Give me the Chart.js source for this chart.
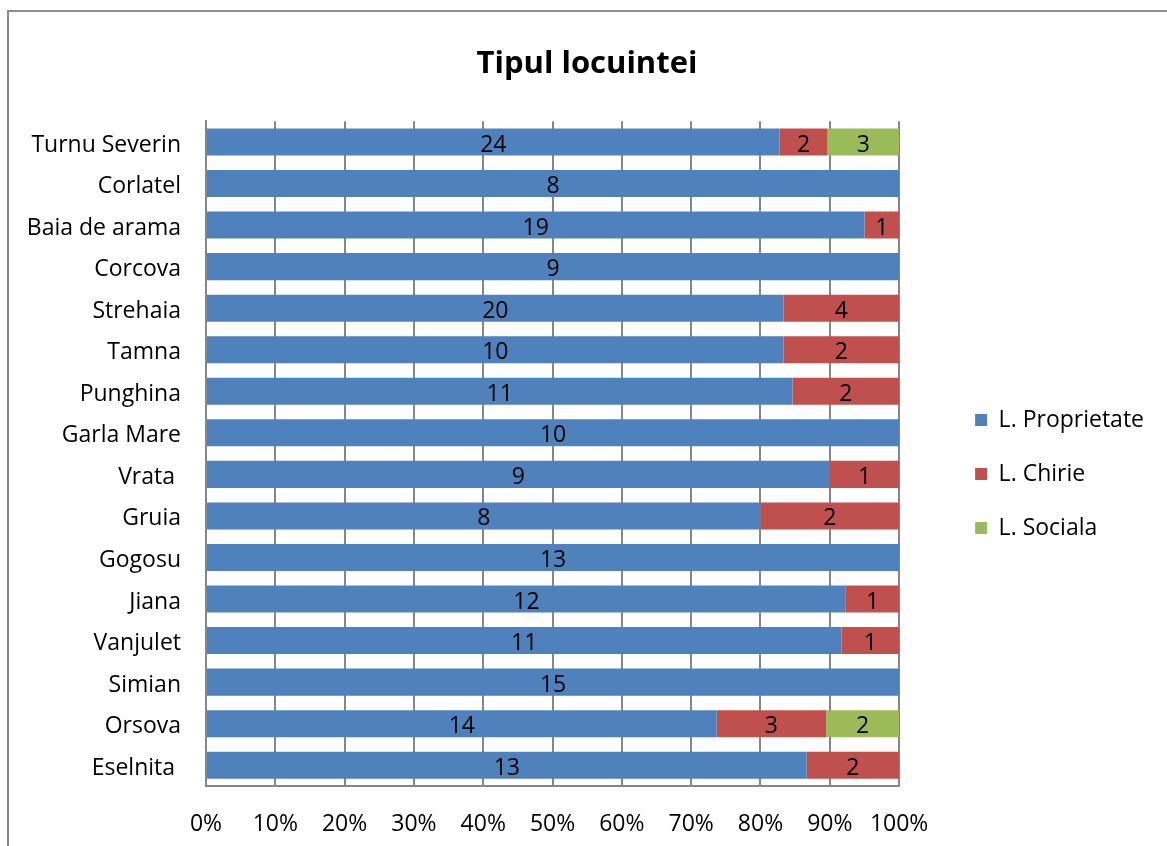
<!DOCTYPE html>
<html>
<head>
<meta charset="utf-8">
<script src="https://cdn.jsdelivr.net/npm/chart.js@4/dist/chart.umd.min.js"></script>
<style>
  html, body { margin: 0; padding: 0; background: #fff; overflow: hidden; }
  #wrap { position: relative; width: 1167px; height: 846px; }
  #frame { position: absolute; left: 7px; top: 10px; width: 1300px; height: 1000px;
           border-left: 2px solid #8c8c8c; border-top: 2px solid #8c8c8c; }
  canvas { position: absolute; left: 0; top: 0; }
</style>
</head>
<body>
<div id="wrap">
  <div id="frame"></div>
  <canvas id="c" width="1167" height="846"></canvas>
</div>
<script>
const categories = ["Turnu Severin", "Corlatel", "Baia de arama", "Corcova", "Strehaia", "Tamna",
  "Punghina", "Garla Mare", "Vrata ", "Gruia", "Gogosu", "Jiana", "Vanjulet", "Simian", "Orsova", "Eselnita "];
const proprietate = [24, 8, 19, 9, 20, 10, 11, 10, 9, 8, 13, 12, 11, 15, 14, 13];
const chirie      = [2, 0, 1, 0, 4, 2, 2, 0, 1, 2, 0, 1, 1, 0, 3, 2];
const sociala     = [3, 0, 0, 0, 0, 0, 0, 0, 0, 0, 0, 0, 0, 0, 2, 0];
const seriesNames = ["L. Proprietate", "L. Chirie", "L. Sociala"];
const tickLabels = ["0%", "10%", "20%", "30%", "40%", "50%", "60%", "70%", "80%", "90%", "100%"];

const FONT = "'Open Sans', sans-serif";
const counts = [proprietate, chirie, sociala];
const totals = categories.map((_, i) => proprietate[i] + chirie[i] + sociala[i]);
const pct = arr => arr.map((v, i) => v / totals[i] * 100);
const colors = ["#4F81BD", "#C0504D", "#9BBB59"];

const labelPlugin = {
  id: 'barLabels',
  afterDatasetsDraw(chart) {
    const ctx = chart.ctx;
    ctx.save();
    ctx.font = "23px " + FONT;
    ctx.fillStyle = "#000";
    ctx.textAlign = "center";
    ctx.textBaseline = "middle";
    chart.data.datasets.forEach((ds, di) => {
      const meta = chart.getDatasetMeta(di);
      meta.data.forEach((el, i) => {
        const v = counts[di][i];
        if (!v) return;
        ctx.fillText(String(v), (el.x + el.base) / 2, el.y + 3);
      });
    });
    ctx.restore();
  }
};

new Chart(document.getElementById('c'), {
  type: 'bar',
  data: {
    labels: categories,
    datasets: counts.map((arr, k) => ({
      label: seriesNames[k],
      data: pct(arr),
      backgroundColor: colors[k],
      borderWidth: 0,
      categoryPercentage: 0.65,
      barPercentage: 1
    }))
  },
  options: {
    indexAxis: 'y',
    responsive: false,
    animation: false,
    devicePixelRatio: 1,
    layout: { padding: { left: 20, top: 17, right: 13, bottom: 0 } },
    plugins: {
      title: {
        display: true,
        text: 'Tipul locuintei',
        color: '#000',
        font: { family: FONT, size: 31, weight: 'bold' },
        padding: { top: 29, bottom: 38 }
      },
      legend: {
        position: 'right',
        align: 'center',
        title: { display: true, text: ' ', font: { size: 10 }, padding: { top: 0, bottom: 73 } },
        labels: {
          boxWidth: 12, boxHeight: 12, padding: 31,
          color: '#000',
          font: { family: FONT, size: 23 }
        }
      },
      tooltip: { enabled: false }
    },
    scales: {
      x: {
        stacked: true,
        min: 0, max: 100,
        afterBuildTicks(s) { s.ticks = tickLabels.map((_, i) => ({ value: i * 10 })); },
        ticks: {
          padding: 25,
          color: '#000',
          font: { family: FONT, size: 23 },
          callback: (v, i) => tickLabels[i]
        },
        grid: { color: '#868686', lineWidth: 2, drawTicks: false },
        border: { display: true, color: '#868686', width: 2 },
        afterFit(s) { s.height = 60; }
      },
      y: {
        stacked: true,
        ticks: {
          padding: 25,
          labelOffset: 3,
          color: '#000',
          font: { family: FONT, size: 23 }
        },
        grid: { display: false, drawTicks: false },
        border: { display: true, color: '#868686', width: 2 },
        afterFit(s) { s.width = 186; }
      },
      gap: {
        type: 'linear',
        position: 'right',
        display: false,
        afterFit(s) { s.width = 45; }
      }
    }
  },
  plugins: [labelPlugin]
});
</script>
</body>
</html>
